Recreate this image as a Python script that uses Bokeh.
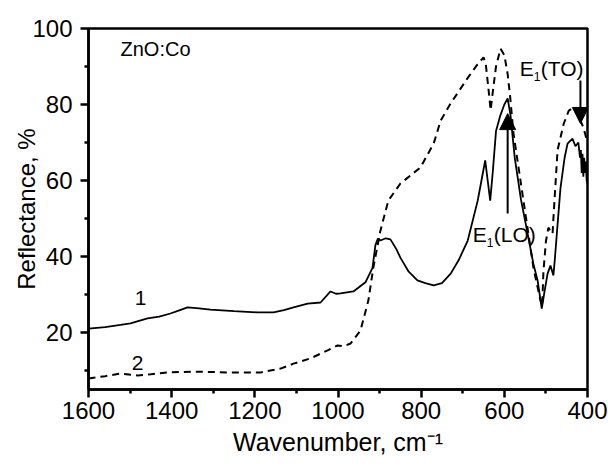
from bokeh.plotting import figure
from bokeh.models import Range1d, Arrow, NormalHead, FixedTicker
from bokeh.core.properties import value
from bokeh.embed import file_html
from bokeh.resources import INLINE

# Curve 1 (solid)
x1 = [1600, 1560, 1523, 1499, 1458, 1430, 1403, 1380, 1362, 1340, 1307, 1250, 1194, 1155, 1130,
      1107, 1073, 1042, 1018, 1005, 994, 963, 934, 917, 910, 904, 898, 885, 874, 860, 850,
      830, 809, 790, 770, 750, 729, 710, 688, 664, 655, 646, 640, 634, 628, 620, 610, 600,
      592, 585, 575, 560, 544, 530, 520, 510, 503, 496, 489, 482, 478, 473, 465, 455, 448,
      436, 429, 422, 418, 416, 414, 412, 410, 408, 406, 404, 402, 400]
y1 = [21.0, 21.4, 22.0, 22.4, 23.7, 24.2, 25.0, 25.9, 26.6, 26.4, 26.0, 25.6, 25.3, 25.3, 25.9,
      26.6, 27.6, 27.9, 30.8, 30.2, 30.3, 30.8, 33.2, 37.0, 43.0, 44.7, 44.2, 44.8, 44.5, 42.0, 39.7,
      36.0, 33.7, 33.0, 32.4, 33.0, 35.5, 39.0, 44.2, 54.7, 60.0, 65.3, 60.0, 54.7, 62.0, 73.0, 77.0, 80.0,
      81.6, 77.0, 66.0, 55.0, 46.0, 38.0, 33.7, 26.3, 31.0, 35.5, 37.6, 35.0, 40.0, 47.0, 58.0, 66.0, 69.7,
      71.0, 69.0, 70.0, 66.0, 68.0, 62.0, 67.0, 61.0, 66.0, 62.0, 65.0, 60.0, 59.0]

# Curve 2 (dashed)
x2 = [1600, 1560, 1523, 1482, 1450, 1410, 1347, 1266, 1186, 1138, 1107, 1066, 1025, 1001, 985,
      970, 946, 927, 915, 898, 879, 850, 802, 770, 753, 729, 688, 665, 650, 645, 638, 633, 627,
      620, 609, 600, 592, 586, 578, 554, 530, 513, 509, 506, 500, 494, 488, 484, 482, 472, 457,
      445, 433, 424, 418, 410, 405, 400]
y2 = [7.9, 8.5, 9.2, 8.7, 9.0, 9.5, 9.7, 9.5, 9.5, 10.5, 11.8, 13.2, 15.3, 16.6, 16.4,
      17.1, 20.5, 28.4, 37.1, 46.8, 54.7, 59.2, 63.4, 69.7, 75.8, 80.3, 87.0, 90.5, 92.4, 91.0, 84.0, 78.5, 84.0,
      90.0, 94.7, 93.0, 88.0, 82.0, 72.4, 54.7, 37.0, 28.4, 27.0, 36.0, 44.0, 47.6, 46.5, 46.0, 50.0, 68.0, 75.0,
      78.4, 79.2, 77.6, 76.0, 74.0, 72.0, 70.0]

x_ticks = [1600, 1400, 1200, 1000, 800, 600, 400]
x_minor = [1500, 1300, 1100, 900, 700, 500]
y_ticks = [20, 40, 60, 80, 100]
y_minor = [10, 30, 50, 70, 90]

# annotations: (x, y)
title_pos = (1523, 94.7)
label1_pos = (1475, 29.2)
label2_pos = (1482, 12.1)
to_text_pos = (563, 89.5)
lo_text_pos = (676, 45.8)
to_arrow = (417, 86.3, 417, 75.0)
lo_arrow = (592, 51.3, 592, 77.6)

FONT = "Liberation Sans"

p = figure(width=608, height=471, output_backend="svg", toolbar_location=None,
           x_range=Range1d(1600, 400), y_range=Range1d(5, 100),
           min_border_left=88, min_border_right=21, min_border_top=28, min_border_bottom=82)

p.line(x1, y1, line_color="black", line_width=1.8)
p.line(x2, y2, line_color="black", line_width=2, line_dash="7 5")

p.xgrid.visible = False
p.ygrid.visible = False
p.background_fill_color = "white"
p.border_fill_color = "white"
p.outline_line_color = "black"
p.outline_line_width = 2.5
p.outline_line_alpha = 1

p.xaxis.ticker = FixedTicker(ticks=x_ticks, minor_ticks=x_minor)
p.yaxis.ticker = FixedTicker(ticks=y_ticks, minor_ticks=y_minor)
for ax in (p.xaxis, p.yaxis):
    ax.axis_line_width = 2.5
    ax.axis_line_color = "black"
    ax.major_tick_line_width = 2.5
    ax.minor_tick_line_width = 2.5
    ax.major_tick_in = 0
    ax.major_tick_out = 8
    ax.minor_tick_in = 0
    ax.minor_tick_out = 4
    ax.major_label_text_font = FONT
    ax.major_label_text_font_size = "24px"
    ax.major_label_text_color = "black"
    ax.axis_label_text_font = FONT
    ax.axis_label_text_font_style = "normal"
    ax.axis_label_text_color = "black"
p.xaxis.axis_label_text_font_size = "25px"
p.yaxis.axis_label_text_font_size = "24px"
p.xaxis.axis_label = "Wavenumber, cm⁻¹"
p.yaxis.axis_label = "Reflectance, %"
p.xaxis.major_label_standoff = 4
p.yaxis.major_label_standoff = 8
p.xaxis.axis_label_standoff = 6
p.yaxis.axis_label_standoff = -11

tf = value(FONT)
p.text(x=[title_pos[0]], y=[title_pos[1]], text=["ZnO:Co"], text_font=tf,
       text_font_size="20px", text_baseline="middle", text_align="left")
p.text(x=[label1_pos[0]], y=[label1_pos[1]], text=["1"], text_font=tf,
       text_font_size="21px", text_baseline="middle", text_align="center")
p.text(x=[label2_pos[0]], y=[label2_pos[1]], text=["2"], text_font=tf,
       text_font_size="21px", text_baseline="middle", text_align="center")

for (tx, ty), tail in ((to_text_pos, "(TO)"), (lo_text_pos, "(LO)")):
    p.text(x=[tx], y=[ty], text=["E"], text_font=tf, text_font_size="21px",
           text_baseline="middle", text_align="left")
    p.text(x=[tx], y=[ty], text=["1"], text_font=tf, text_font_size="12px",
           text_baseline="middle", text_align="left", x_offset=14, y_offset=8)
    p.text(x=[tx], y=[ty], text=[tail], text_font=tf, text_font_size="21px",
           text_baseline="middle", text_align="left", x_offset=21)

for (xs, ys, xe, ye) in (to_arrow, lo_arrow):
    p.add_layout(Arrow(end=NormalHead(size=16, fill_color="black", line_color="black"),
                       x_start=xs, y_start=ys, x_end=xe, y_end=ye,
                       line_color="black", line_width=2))

open("out.html", "w").write(file_html(p, INLINE))
